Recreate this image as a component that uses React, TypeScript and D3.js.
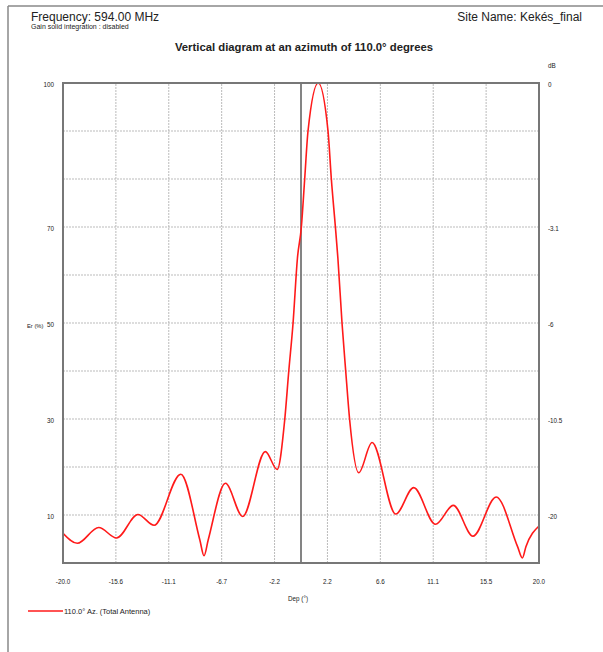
import React from 'react';
import * as d3 from 'd3';

// Elevation (deg) and relative field strength Er (%)
const elevation = [
  -20, -18.8, -17.0, -15.5, -13.7, -12.35, -10.1, -8.5, -8.15, -7.8, -6.35, -4.9, -3.0, -2.0,
  -1.37, -1.03, -0.67, -0.3, 0.03, 0.31, 0.59, 1.45, 2.27, 2.55, 2.89, 3.1, 3.45, 3.76, 4.09,
  4.85, 5.97, 7.96, 9.47, 11.3, 12.8, 14.45, 16.4, 18.2, 18.6, 18.9, 20,
];
const fieldStrength = [
  6.2, 4.1, 7.4, 5.2, 10.1, 7.85, 18.5, 4.8, 1.5, 4.8, 16.6, 9.7, 23.2, 19.5,
  29.8, 39.9, 49.9, 63.5, 70, 80, 90, 100, 90, 80, 70, 63.5, 49.9, 39.9, 29.8,
  18.8, 25.1, 10.2, 15.7, 8.06, 12.0, 5.6, 13.75, 3.4, 1.04, 3.4, 7.7,
];

const xTicks = [-20, -15.556, -11.111, -6.667, -2.222, 2.222, 6.667, 11.111, 15.556, 20];
const xTickLabels = ['-20.0', '-15.6', '-11.1', '-6.7', '-2.2', '2.2', '6.6', '11.1', '15.5', '20.0'];
const yTicks = [100, 70, 50, 30, 10];
const dbLabels = ['0', '-3.1', '-6', '-10.5', '-20'];
const yGrid = [10, 20, 30, 40, 50, 60, 70, 80, 90];

const font = '"Liberation Sans", Arial, sans-serif';

export default function App() {
  const width = 603;
  const height = 652;
  const margin = { top: 83, right: 64, bottom: 89, left: 63 };

  const x = d3.scaleLinear().domain([-20, 20]).range([margin.left, width - margin.right]);
  const y = d3.scaleLinear().domain([0, 100]).range([height - margin.bottom, margin.top]);

  const points = elevation.map((e, i) => [e, fieldStrength[i]] as [number, number]);
  const line = d3
    .line<[number, number]>()
    .x((d) => x(d[0]))
    .y((d) => y(d[1]))
    .curve(d3.curveMonotoneX);

  const x0 = x.range()[0];
  const x1 = x.range()[1];
  const y0 = y.range()[0];
  const y1 = y.range()[1];

  return (
    <svg
      width={width}
      height={height}
      style={{ position: 'absolute', left: 0, top: 0, background: '#fff' }}
      fontFamily={font}
    >
      {/* page frame */}
      <line x1={8} y1={6} x2={width} y2={6} stroke="#888" strokeWidth={1.5} />
      <line x1={8} y1={6} x2={8} y2={height} stroke="#888" strokeWidth={1.5} />

      <text x={31} y={21} fontSize={12} fill="#222">Frequency: 594.00 MHz</text>
      <text x={31} y={29} fontSize={7} fill="#222">Gain solid integration : disabled</text>
      <text x={582} y={21} fontSize={12} fill="#222" textAnchor="end">Site Name: Kekés_final</text>
      <text x={304} y={51} fontSize={11.3} fontWeight="bold" fill="#222" textAnchor="middle">
        Vertical diagram at an azimuth of 110.0° degrees
      </text>

      {/* grid */}
      <g stroke="#bbb" strokeWidth={1} strokeDasharray="2,1">
        {yGrid.map((v) => (
          <line key={'h' + v} x1={x0} x2={x1} y1={y(v)} y2={y(v)} />
        ))}
        {xTicks.slice(1, -1).map((v) => (
          <line key={'v' + v} x1={x(v)} x2={x(v)} y1={y0} y2={y1} />
        ))}
      </g>
      <line x1={x(0)} x2={x(0)} y1={y0} y2={y1} stroke="#777" strokeWidth={1.8} />

      <path d={line(points) || ''} fill="none" stroke="#ff1a1a" strokeWidth={1.6} />

      <rect x={x0} y={y1} width={x1 - x0} height={y0 - y1} fill="none" stroke="#777" strokeWidth={2} />

      {/* y labels */}
      <g fontSize={6.3} fill="#222">
        {yTicks.map((v, i) => (
          <g key={v}>
            <text x={54} y={y(v) + 3.5} textAnchor="end">{v}</text>
            <text x={548} y={y(v) + 3.5}>{dbLabels[i]}</text>
          </g>
        ))}
        <text x={548} y={68}>dB</text>
        <text x={27} y={328} fontSize={5.8}>Er (%)</text>
      </g>

      {/* x labels */}
      <g fontSize={6.3} fill="#222" textAnchor="middle">
        {xTicks.map((v, i) => (
          <text key={v} x={x(v)} y={584}>{xTickLabels[i]}</text>
        ))}
        <text x={298} y={601}>Dep (°)</text>
      </g>

      {/* legend */}
      <line x1={28} x2={63} y1={611} y2={611} stroke="#ff1a1a" strokeWidth={1.5} />
      <text x={64} y={613.5} fontSize={7.5} fill="#222">110.0° Az. (Total Antenna)</text>
    </svg>
  );
}
